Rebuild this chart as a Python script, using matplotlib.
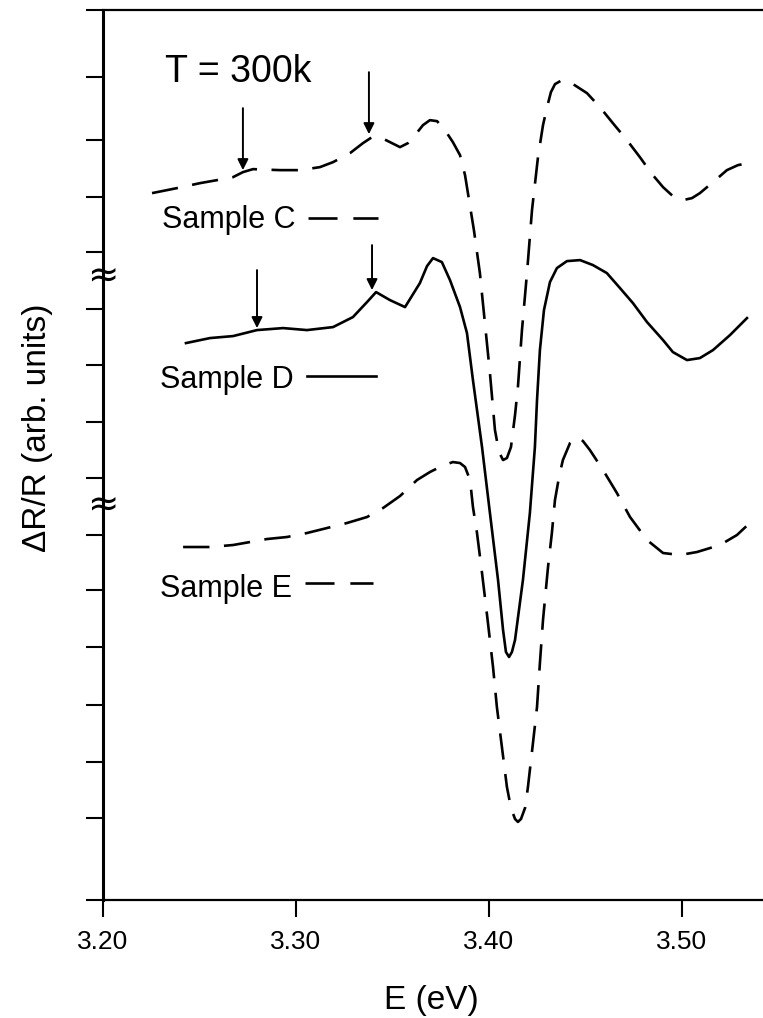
import matplotlib
matplotlib.use("Agg")
import matplotlib.pyplot as plt
import matplotlib.transforms as mtransforms

plt.rcParams['font.family'] = ['Liberation Sans', 'DejaVu Sans']

# photon energy (eV) and dR/R (arb. units, curves offset)
e_c = [3.2254, 3.2383, 3.2503, 3.2591, 3.2674, 3.2725, 3.2777, 3.2917, 3.3021, 3.3124,
       3.3192, 3.3280, 3.3347, 3.3394, 3.3435, 3.3487, 3.3539, 3.3580, 3.3617, 3.3658,
       3.3694, 3.3731, 3.3772, 3.3813, 3.3850, 3.3876, 3.3891, 3.3922, 3.3953, 3.4005,
       3.4031, 3.4052, 3.4073, 3.4093, 3.4114, 3.4135, 3.4150, 3.4171, 3.4197, 3.4223,
       3.4254, 3.4280, 3.4301, 3.4321, 3.4342, 3.4378, 3.4420, 3.4508, 3.4575, 3.4642,
       3.4715, 3.4782, 3.4845, 3.4902, 3.4953, 3.5005, 3.5052, 3.5093, 3.5161, 3.5233,
       3.5290, 3.5342]
r_c = [70.7, 71.2, 71.7, 72.0, 72.3, 72.8, 73.1, 73.0, 73.0, 73.3,
       73.8, 74.7, 75.7, 76.3, 76.3, 75.8, 75.3, 75.7, 76.5, 77.5,
       78.0, 77.9, 77.0, 75.8, 74.5, 72.5, 70.7, 67.0, 62.7, 52.7,
       47.0, 44.8, 44.0, 44.2, 45.3, 48.5, 51.3, 57.0, 62.7, 69.0,
       74.3, 77.5, 79.3, 80.8, 81.6, 82.0, 81.8, 80.7, 79.3, 77.7,
       76.0, 74.3, 72.6, 71.3, 70.4, 70.0, 70.2, 70.7, 71.8, 73.0,
       73.5, 73.7]

e_d = [3.2430, 3.2554, 3.2674, 3.2798, 3.2933, 3.3057, 3.3192, 3.3295, 3.3368, 3.3415,
       3.3487, 3.3565, 3.3642, 3.3679, 3.3710, 3.3756, 3.3798, 3.3850, 3.3886, 3.3917,
       3.3964, 3.4005, 3.4047, 3.4073, 3.4088, 3.4104, 3.4119, 3.4135, 3.4176, 3.4212,
       3.4238, 3.4249, 3.4264, 3.4285, 3.4316, 3.4352, 3.4404, 3.4472, 3.4539, 3.4611,
       3.4679, 3.4746, 3.4819, 3.4902, 3.4953, 3.5026, 3.5093, 3.5161, 3.5249, 3.5337]
r_d = [55.7, 56.2, 56.4, 57.0, 57.2, 57.0, 57.3, 58.3, 59.8, 60.8,
       60.0, 59.3, 61.7, 63.4, 64.2, 63.8, 62.0, 59.3, 56.7, 52.0,
       45.3, 38.7, 32.0, 27.0, 24.8, 24.3, 24.8, 26.0, 32.0, 38.7,
       45.3, 50.0, 55.0, 59.0, 61.8, 63.2, 63.9, 64.0, 63.5, 62.7,
       61.2, 59.7, 57.8, 56.0, 54.8, 54.0, 54.2, 55.0, 56.5, 58.2]

e_e = [3.2415, 3.2554, 3.2674, 3.2762, 3.2850, 3.2953, 3.3057, 3.3161, 3.3264, 3.3368,
       3.3451, 3.3539, 3.3627, 3.3694, 3.3756, 3.3813, 3.3850, 3.3876, 3.3902, 3.3917,
       3.3938, 3.3964, 3.3990, 3.4021, 3.4041, 3.4067, 3.4093, 3.4114, 3.4135, 3.4150,
       3.4166, 3.4187, 3.4202, 3.4228, 3.4249, 3.4264, 3.4280, 3.4306, 3.4326, 3.4342,
       3.4363, 3.4383, 3.4420, 3.4456, 3.4487, 3.4523, 3.4591, 3.4663, 3.4731, 3.4819,
       3.4902, 3.4990, 3.5078, 3.5197, 3.5285, 3.5368]
r_e = [35.3, 35.3, 35.5, 35.8, 36.1, 36.3, 36.7, 37.2, 37.7, 38.3,
       39.2, 40.4, 42.0, 42.8, 43.4, 43.8, 43.7, 43.3, 42.0, 39.3,
       36.7, 32.7, 28.5, 23.3, 19.3, 15.3, 11.3, 9.2, 8.1, 7.8,
       8.1, 9.2, 11.3, 15.7, 19.3, 23.7, 28.0, 33.3, 36.7, 40.0,
       42.3, 44.0, 45.7, 46.3, 45.9, 45.0, 43.0, 40.7, 38.3, 36.0,
       34.7, 34.5, 34.8, 35.5, 36.5, 38.0]

# arrows marking the small features: (E, tail, tip)
arrows_c = [(3.2725, 79.2, 73.0), (3.3378, 82.8, 76.6)]
arrows_d = [(3.2798, 63.0, 57.2), (3.3394, 65.5, 61.0)]

x_ticks = [3.20, 3.30, 3.40, 3.50]
x_labels = ["3.20", "3.30", "3.40", "3.50"]
y_ticks = [0, 8.2, 13.8, 19.5, 25.3, 31.0, 36.5, 42.2, 47.8, 53.5,
           59.1, 64.8, 70.3, 76.0, 82.3, 89]
breaks = [62.3, 39.4]

fig = plt.figure(figsize=(7.63, 10.18), dpi=100)
ax = fig.add_axes([0.135, 0.116, 0.865, 0.874])

dash = (10, 5.5)
ax.plot(e_c, r_c, color='black', lw=1.9, dashes=dash)
ax.plot(e_d, r_d, color='black', lw=1.9)
ax.plot(e_e, r_e, color='black', lw=1.9, dashes=dash)

for e, y0, y1 in arrows_c + arrows_d:
    ax.annotate('', xy=(e, y1), xytext=(e, y0),
                arrowprops=dict(arrowstyle='-|>', color='black', lw=1.4,
                                mutation_scale=16, shrinkA=0, shrinkB=0))

ax.set_xlim(3.20, 3.542)
ax.set_ylim(0, 89)
ax.set_xticks(x_ticks)
ax.set_xticklabels(x_labels)
ax.set_yticks(y_ticks)
ax.set_yticklabels([])
ax.tick_params(axis='both', direction='out', length=12, width=1.5, color='black')
ax.tick_params(axis='x', labelsize=19, pad=10)

ax.spines['right'].set_visible(False)
ax.spines['left'].set_linewidth(2.2)
ax.spines['bottom'].set_linewidth(1.6)
ax.spines['top'].set_linewidth(1.6)

# labels for each trace with a short key line
ax.text(0.094, 0.919, "T = 300k", transform=ax.transAxes, fontsize=27)
ax.text(0.089, 0.755, "Sample C", transform=ax.transAxes, fontsize=22)
ax.text(0.086, 0.575, "Sample D", transform=ax.transAxes, fontsize=22)
ax.text(0.086, 0.340, "Sample E", transform=ax.transAxes, fontsize=22)
ax.plot([0.311, 0.417], [0.766, 0.766], transform=ax.transAxes, color='black', lw=1.9, dashes=(11, 6))
ax.plot([0.309, 0.414], [0.589, 0.589], transform=ax.transAxes, color='black', lw=1.9)
ax.plot([0.306, 0.409], [0.356, 0.356], transform=ax.transAxes, color='black', lw=1.9, dashes=(11, 6))

# axis break marks
trans = mtransforms.blended_transform_factory(ax.transAxes, ax.transData)
for yb in breaks:
    ax.text(0.0, yb, "≈", transform=trans, ha='center', va='center',
            fontsize=27, family='DejaVu Sans')

fig.text(0.0485, 0.58, "ΔR/R (arb. units)", rotation=90, ha='center', va='center', fontsize=24)
fig.text(0.565, 0.017, "E (eV)", ha='center', va='center', fontsize=24)

fig.savefig('out.png', dpi=100, facecolor='white')
